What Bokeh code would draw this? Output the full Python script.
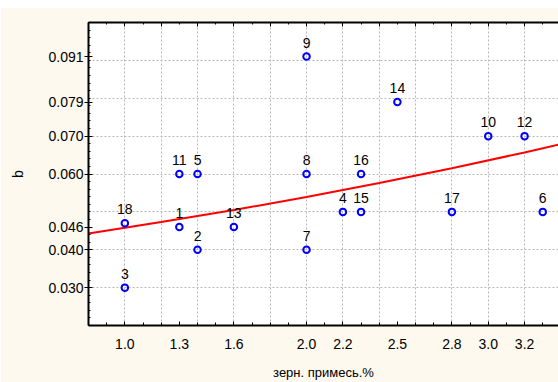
import numpy as np
from bokeh.plotting import figure
from bokeh.models import (FixedTicker, LinearAxis, LabelSet, ColumnDataSource,
                          Range1d, Div)
from bokeh.core.properties import value
from bokeh.layouts import column
from bokeh.embed import file_html
from bokeh.resources import INLINE

# ---- data ----
point_ids = ["1", "2", "3", "4", "5", "6", "7", "8", "9", "10",
             "11", "12", "13", "14", "15", "16", "17", "18"]
x_values = [1.3, 1.4, 1.0, 2.2, 1.4, 3.3, 2.0, 2.0, 2.0, 3.0,
            1.3, 3.2, 1.6, 2.5, 2.3, 2.3, 2.8, 1.0]
b_values = [0.046, 0.040, 0.030, 0.050, 0.060, 0.050, 0.040, 0.060, 0.091, 0.070,
            0.060, 0.070, 0.046, 0.079, 0.050, 0.060, 0.050, 0.047]

fit_x = [0.8, 1.2, 1.6, 2.0, 2.4, 2.8, 3.2, 3.4]
fit_y = [0.0443, 0.0473, 0.0505, 0.0539, 0.0576, 0.0615, 0.0657, 0.0679]

x_tick_values = [1.0, 1.3, 1.6, 2.0, 2.2, 2.5, 2.8, 3.0, 3.2]
x_tick_labels = ["1.0", "1.3", "1.6", "2.0", "2.2", "2.5", "2.8", "3.0", "3.2"]
y_tick_values = [0.030, 0.040, 0.046, 0.060, 0.070, 0.079, 0.091]
y_tick_labels = ["0.030", "0.040", "0.046", "0.060", "0.070", "0.079", "0.091"]

x_title = "зерн. примесь.%"
y_title = "b"

FONT = "Liberation Sans"
CREAM = "#fdf9ee"

x_grid = [round(v, 1) for v in np.arange(0.8, 3.41, 0.2)]
x_minor = [round(v, 1) for v in np.arange(0.8, 3.41, 0.1)]
y_grid = [round(v, 3) for v in np.arange(0.02, 0.1001, 0.01)]
y_minor = [round(v, 3) for v in np.arange(0.02, 0.1001, 0.002)]

p = figure(width=558, height=375, output_backend="svg", toolbar_location=None,
           x_range=Range1d(0.8, 0.8 + 470 / 181.7), y_range=Range1d(0.02, 0.10),
           x_axis_location=None, y_axis_location=None,
           min_border_left=88, min_border_right=0, min_border_top=15,
           min_border_bottom=57)
p.background_fill_color = "white"
p.border_fill_color = CREAM
p.outline_line_color = None

# axes
xaxis = LinearAxis(ticker=FixedTicker(ticks=x_tick_values, minor_ticks=x_minor),
                   axis_label=x_title)
xaxis.major_label_overrides = {v: s for v, s in zip(x_tick_values, x_tick_labels)}
yaxis = LinearAxis(ticker=FixedTicker(ticks=y_tick_values, minor_ticks=y_minor),
                   axis_label=y_title)
yaxis.major_label_overrides = {v: s for v, s in zip(y_tick_values, y_tick_labels)}
topaxis = LinearAxis(ticker=FixedTicker(ticks=x_grid, minor_ticks=x_minor))
topaxis.major_label_overrides = {v: "" for v in x_grid}
topaxis.major_label_standoff = 0

for ax in (xaxis, yaxis, topaxis):
    ax.axis_line_color = "black"
    ax.axis_line_width = 2
    ax.major_tick_line_color = "black"
    ax.minor_tick_line_color = "black"
    ax.major_tick_line_width = 1
    ax.minor_tick_line_width = 1
    ax.major_label_text_font = FONT
    ax.major_label_text_color = "black"
    ax.axis_label_text_font = FONT
    ax.axis_label_text_font_style = "normal"
    ax.axis_label_text_color = "black"

xaxis.major_tick_in = 4
xaxis.major_tick_out = 0
xaxis.minor_tick_in = 3
xaxis.minor_tick_out = 0
xaxis.major_label_standoff = 13
xaxis.major_label_text_font_size = "14px"
xaxis.axis_label_text_font_size = "13px"
xaxis.axis_label_standoff = 13

yaxis.major_tick_in = 4
yaxis.major_tick_out = 4
yaxis.minor_tick_in = 2
yaxis.minor_tick_out = 0
yaxis.major_label_standoff = 1
yaxis.major_label_text_font_size = "14px"
yaxis.axis_label_text_font_size = "14px"
yaxis.axis_label_standoff = 19

topaxis.major_tick_in = 4
topaxis.major_tick_out = 0
topaxis.minor_tick_in = 2
topaxis.minor_tick_out = 0

p.add_layout(xaxis, "below")
p.add_layout(yaxis, "left")
p.add_layout(topaxis, "above")

# grids
p.xgrid.ticker = FixedTicker(ticks=x_grid)
p.ygrid.ticker = FixedTicker(ticks=y_grid)
for g in (p.xgrid, p.ygrid):
    g.grid_line_color = "#b8b8b8"
    g.grid_line_dash = "2 2"
    g.grid_line_width = 1

# fit line
p.line(fit_x, fit_y, line_color="#ff0000", line_width=2)

# points
src = ColumnDataSource(dict(x=x_values, y=b_values, lab=point_ids))
p.scatter("x", "y", source=src, marker="circle", size=6.5, fill_color=None,
          line_color="#0000ff", line_width=2)
labels = LabelSet(x="x", y="y", text="lab", source=src, text_align="center",
                  text_baseline="alphabetic", y_offset=9,
                  text_font_size=value("14px"), text_font=value(FONT),
                  text_color="black")
p.add_layout(labels)

band = Div(text="", width=558, height=7, margin=0,
           styles={"background-color": "white"})
layout = column(band, p, spacing=0)

open("out.html", "w").write(file_html(layout, INLINE))
